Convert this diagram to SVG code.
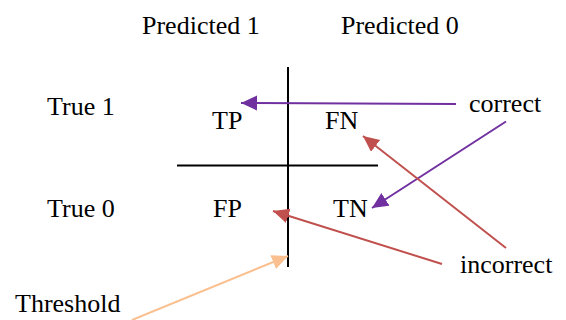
<svg xmlns="http://www.w3.org/2000/svg" width="566" height="320" viewBox="0 0 566 320">
<style>
text{font-family:"Liberation Serif","Times New Roman",serif;font-size:26px;fill:#000}
.ax{stroke:#000;stroke-width:2;fill:none}
.p{stroke:#7030A0;stroke-width:2;fill:none}
.r{stroke:#C0504D;stroke-width:2;fill:none}
.o{stroke:#FAC090;stroke-width:2;fill:none}
</style>
<defs>
<marker id="mp" markerUnits="userSpaceOnUse" markerWidth="18" markerHeight="16" refX="16" refY="7.5" orient="auto"><path d="M0,0 L16,7.5 L0,15 Z" fill="#7030A0"/></marker>
<marker id="mr" markerUnits="userSpaceOnUse" markerWidth="18" markerHeight="16" refX="16" refY="7.5" orient="auto"><path d="M0,0 L16,7.5 L0,15 Z" fill="#C0504D"/></marker>
<marker id="mo" markerUnits="userSpaceOnUse" markerWidth="18" markerHeight="16" refX="16" refY="7.5" orient="auto"><path d="M0,0 L16,7.5 L0,15 Z" fill="#FAC090"/></marker>
</defs>
<g id="axes">
<line class="ax" x1="288" y1="67" x2="288" y2="267"/>
<line class="ax" x1="177" y1="165.5" x2="378" y2="165.5"/>
</g>
<g id="header-pred1"><text x="142" y="33.5">Predicted 1</text></g>
<g id="header-pred0"><text x="341" y="33.5">Predicted 0</text></g>
<g id="row-true1"><text x="47" y="115">True 1</text></g>
<g id="row-true0"><text x="47" y="216.5">True 0</text></g>
<g id="TP"><text x="212" y="128.5">TP</text></g>
<g id="FN"><text x="325" y="128.5">FN</text></g>
<g id="FP"><text x="213" y="216.5">FP</text></g>
<g id="TN"><text x="333" y="216.5">TN</text></g>
<g id="correct"><text x="469" y="112">correct</text></g>
<g id="incorrect"><text x="460" y="273">incorrect</text></g>
<g id="threshold"><text x="15" y="311.5">Threshold</text></g>
<g id="connectors">
<line class="p" x1="456" y1="104" x2="241" y2="103" marker-end="url(#mp)"/>
<line class="p" x1="506" y1="121.5" x2="372" y2="208" marker-end="url(#mp)"/>
<line class="r" x1="506" y1="248" x2="363" y2="136" marker-end="url(#mr)"/>
<line class="r" x1="442" y1="264" x2="273" y2="211" marker-end="url(#mr)"/>
<line class="o" x1="132" y1="320" x2="288" y2="256" marker-end="url(#mo)"/>
</g>
</svg>
